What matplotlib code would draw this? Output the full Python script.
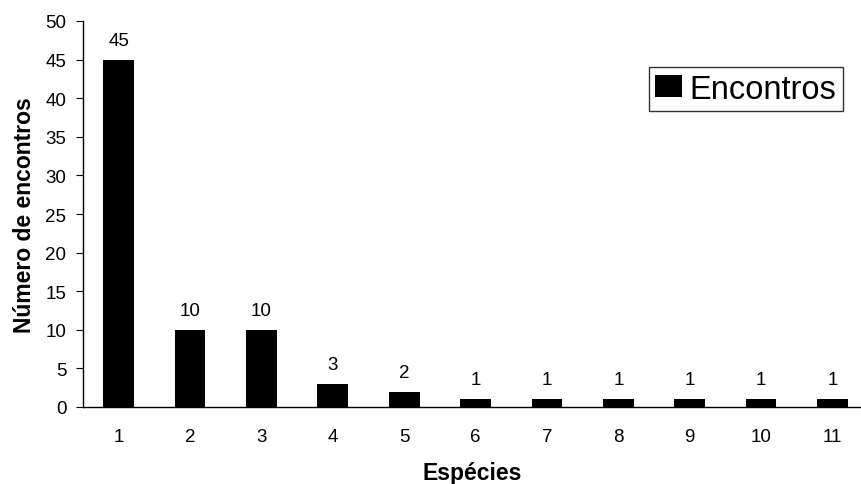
import matplotlib.pyplot as plt

plt.rcParams['font.family'] = ['Liberation Sans', 'DejaVu Sans']

especies = [1, 2, 3, 4, 5, 6, 7, 8, 9, 10, 11]
encontros = [45, 10, 10, 3, 2, 1, 1, 1, 1, 1, 1]

fig = plt.figure(figsize=(8.61, 4.85), dpi=100)
ax = fig.add_axes([83 / 861, 1 - 408 / 485, 778 / 861, 386 / 485])

bars = ax.bar(especies, encontros, width=0.43, color='black', label='Encontros')
for x, v in zip(especies, encontros):
    ax.text(x, v + 1.4, str(v), ha='center', va='bottom', fontsize=13.5)

ax.set_xlim(0.5, 11.4)
ax.set_ylim(0, 50)
ax.set_yticks(range(0, 51, 5))
ax.set_xticks(especies)
ax.tick_params(axis='x', length=0, pad=15, labelsize=13.5)
ax.tick_params(axis='y', length=5, direction='out', pad=7, labelsize=13.5)
ax.spines['top'].set_visible(False)
ax.spines['right'].set_visible(False)
ax.spines['left'].set_linewidth(1)
ax.spines['bottom'].set_linewidth(1)

ax.set_xlabel('Espécies', fontsize=16.5, fontweight='bold', labelpad=12)
ax.set_ylabel('Número de encontros', fontsize=16.5, fontweight='bold', labelpad=7)

leg = ax.legend(loc='upper right', bbox_to_anchor=(843 / 861, 1 - 68 / 485), bbox_transform=fig.transFigure,
                fontsize=23.5, frameon=True, fancybox=False, edgecolor='black',
                handlelength=0.8, handleheight=0.65, handletextpad=0.25, borderpad=0.2,
                borderaxespad=0)
leg.get_frame().set_linewidth(1)

fig.savefig('out.png', dpi=100)
